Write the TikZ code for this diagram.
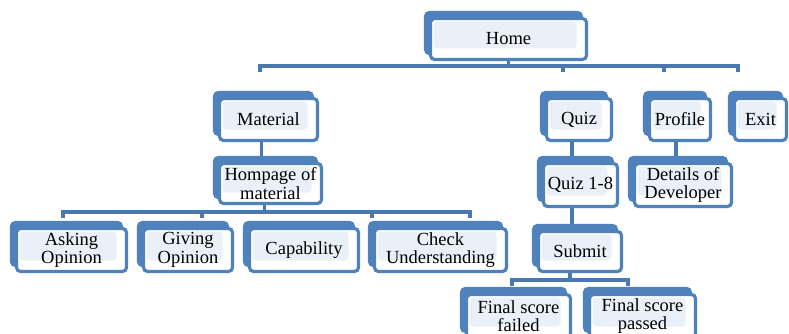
\documentclass[tikz,border=0pt]{standalone}
\usepackage{fontspec}
\setmainfont{Liberation Serif}
\usetikzlibrary{calc, shadows, backgrounds}
\definecolor{smblue}{HTML}{4F81BD}
\definecolor{smline}{HTML}{4A78B0}
\definecolor{smfill}{HTML}{EAF0F8}
\tikzset{box/.style = {draw = smblue, line width = 3.2pt, rounded corners = 4pt, fill = white,
    align = center, inner sep = 0pt, font = \fontsize{18.5}{18.5}\selectfont,
    copy shadow = {shadow xshift = -5pt, shadow yshift = 6pt, fill = smblue, draw = smblue},
    path picture = {\fill[smfill] ([shift = {(3pt,11pt)}]path picture bounding box.south west)
      rectangle ([shift = {(-10pt,-3pt)}]path picture bounding box.north east);}}}
\tikzset{tree/.style = {draw = smline, line width = 3.2pt}}

\begin{document}
\begin{tikzpicture}[x = 1pt, y = -1pt]
\useasboundingbox (0,0) rectangle (789,334);
% level 1
\node[box, minimum width = 156, minimum height = 41] (home) at (508.5,39) {Home};
% level 2
\node[box, minimum width = 98, minimum height = 42] (material) at (268.5,119.5) {Material};
\node[box, minimum width = 65, minimum height = 42] (quiz) at (579,119.5) {Quiz};
\node[box, minimum width = 61, minimum height = 42] (profile) at (680,119.5) {Profile};
\node[box, minimum width = 52, minimum height = 42] (exit) at (760.5,119.5) {Exit};
% level 3
\node[box, minimum width = 102, minimum height = 40] (hompage) at (270.5,183.5) {Hompage of\\material};
\node[box, minimum width = 74, minimum height = 43] (quizall) at (580.5,185) {Quiz 1-8};
\node[box, minimum width = 97, minimum height = 43] (details) at (683,185) {Details of\\Developer};
% level 4
\node[box, minimum width = 110, minimum height = 43] (asking) at (71.5,250) {Asking\\Opinion};
\node[box, minimum width = 89, minimum height = 43] (giving) at (188,250) {Giving\\Opinion};
\node[box, minimum width = 109, minimum height = 43] (capability) at (304,250) {Capability};
\node[box, minimum width = 132, minimum height = 43] (check) at (440.5,250) {Check\\Understanding};
\node[box, minimum width = 83, minimum height = 40] (submit) at (580,251.5) {Submit};
% level 5
\node[box, minimum width = 104, minimum height = 43] (failed) at (518.5,316) {Final score\\failed};
\node[box, minimum width = 106, minimum height = 43] (passed) at (642.5,316) {Final score\\passed};

\begin{scope}[on background layer]
\coordinate (topbus) at (0,66);
\coordinate (matbus) at (0,212);
\coordinate (subbus) at (0,280);
\draw[tree] (home.south) -- (home.south |- topbus);
\draw[tree] ($(material.north |- topbus)+(-8.5,6)$) -- ++(0,-6) -- ($(exit.north |- topbus)+(-22.5,0)$) -- ++(0,6);
\draw[tree] ($(quiz.north |- topbus)+(-16,0)$) -- ++(0,6);
\draw[tree] ($(profile.north |- topbus)+(-16,0)$) -- ++(0,6);
\draw[tree] ([xshift = -7pt]material.south) -- ([xshift = -9pt]hompage.north);
\draw[tree] ([xshift = -7pt]quiz.south) -- ([xshift = -8.5pt]quizall.north);
\draw[tree] ([xshift = -4pt]profile.south) -- ([xshift = -7pt]details.north);
\draw[tree] ([xshift = -8.5pt]quizall.south) -- ([xshift = -8pt]submit.north);
\draw[tree] ([xshift = -6pt]hompage.south) -- ($(hompage.south |- matbus)+(-6,0)$);
\draw[tree] ($(asking.north |- matbus)+(-8.5,6)$) -- ++(0,-6) -- ($(check.north |- matbus)+(29.5,0)$) -- ++(0,6);
\draw[tree] ($(giving.north |- matbus)+(14,0)$) -- ++(0,6);
\draw[tree] ($(capability.north |- matbus)+(68,0)$) -- ++(0,6);
\draw[tree] ([xshift = -10pt]submit.south) -- ($(submit.south |- subbus)+(-10,0)$);
\draw[tree] ($(failed.north |- subbus)+(-6.5,6)$) -- ++(0,-6) -- ($(passed.north |- subbus)+(-14.5,0)$) -- ++(0,6);
\end{scope}
\end{tikzpicture}
\end{document}
